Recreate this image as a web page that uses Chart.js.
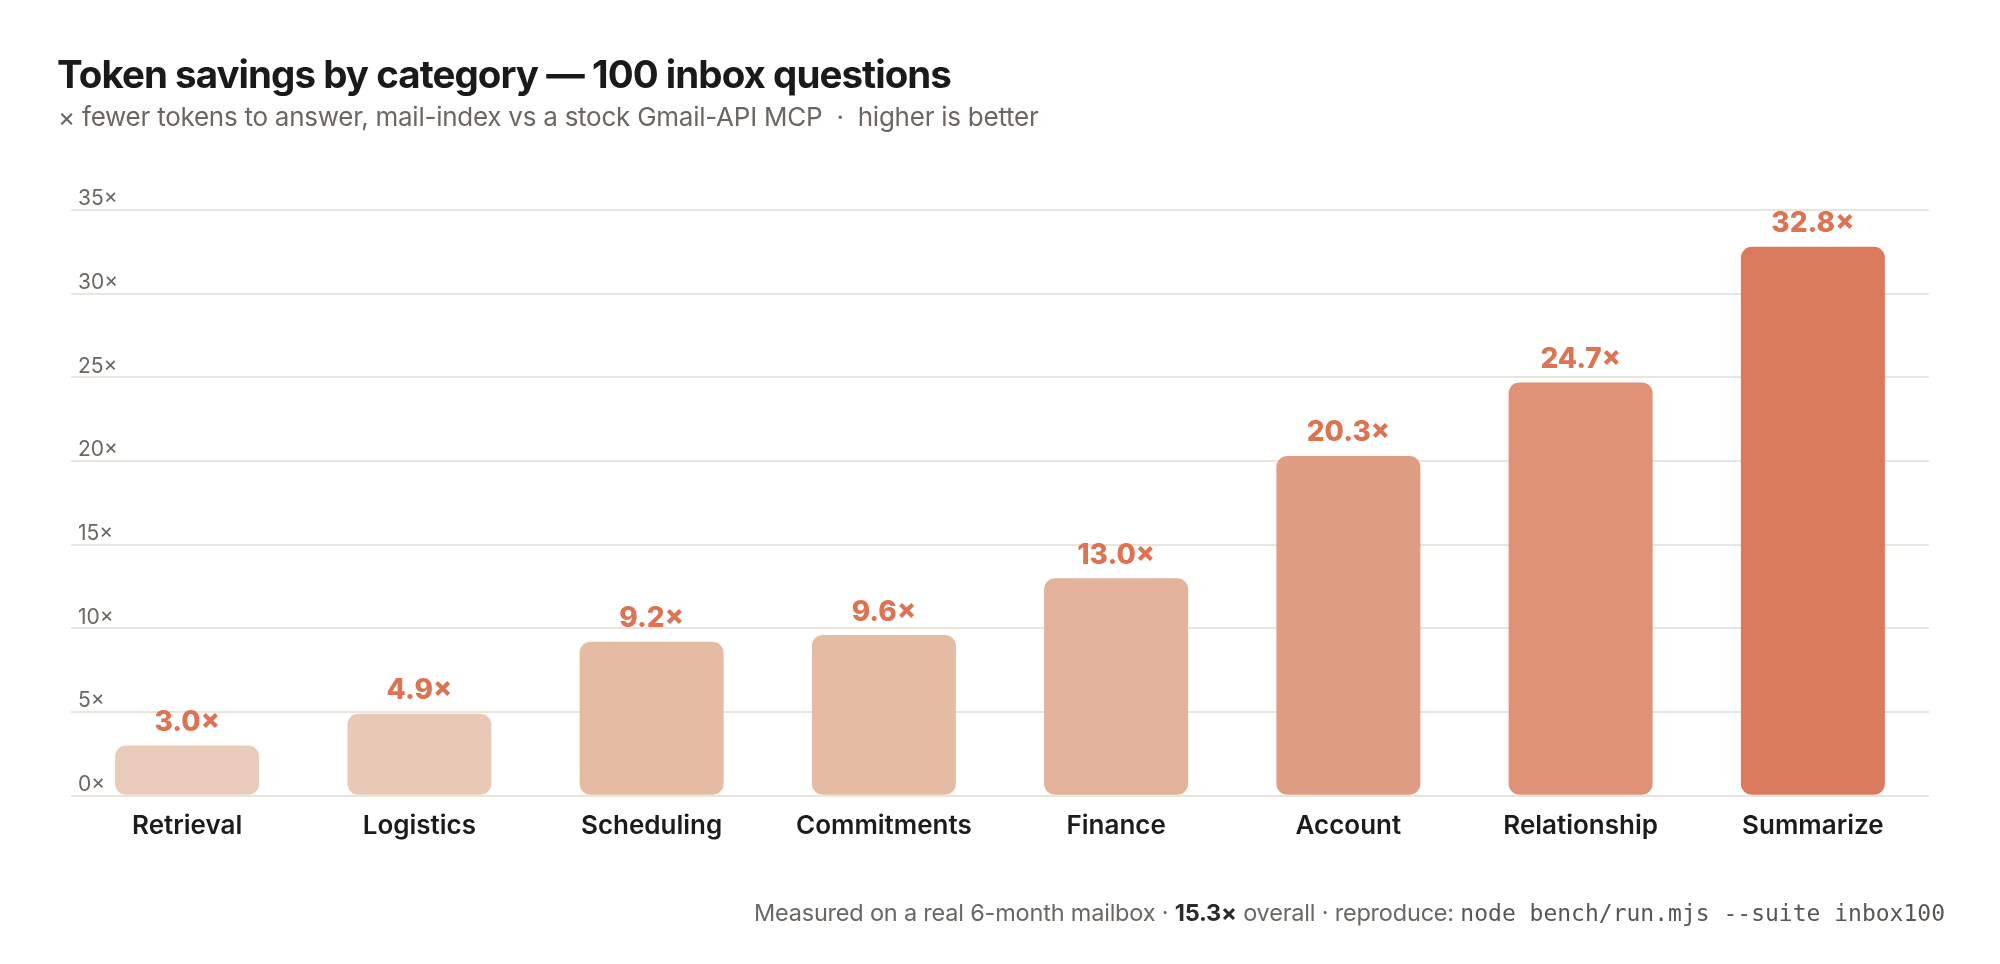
<!DOCTYPE html>
<html>
<head>
<meta charset="utf-8">
<script src="https://cdn.jsdelivr.net/npm/chart.js@4.4.1/dist/chart.umd.min.js"></script>
<style>
  html, body { margin: 0; padding: 0; background: #fff; }
  body { width: 2000px; height: 964px; position: relative; overflow: hidden; font-family: Inter, "Noto Sans", sans-serif; }
  #wrap { position: absolute; left: 0; top: 0; width: 2000px; height: 964px; }
  .title { position: absolute; left: 57px; top: 55px; font-size: 38.5px; font-weight: 700; color: #1a1a1a; letter-spacing: -0.95px; line-height: 1; white-space: nowrap; }
  .sub { position: absolute; left: 58px; top: 104px; font-size: 26px; font-weight: 400; color: #6b6661; letter-spacing: -0.25px; line-height: 1; white-space: nowrap; }
  .foot { position: absolute; right: 55px; top: 901px; font-size: 23.5px; color: #6b6661; line-height: 1; white-space: nowrap; letter-spacing: -0.2px; }
  .foot b { color: #2a2a2a; font-weight: 700; }
  .foot code { font-family: "DejaVu Sans Mono", "Liberation Mono", monospace; font-size: 23px; color: #5a5550; letter-spacing: 0; }
</style>
</head>
<body>
<div id="wrap"><canvas id="chart"></canvas></div>
<div class="title">Token savings by category — 100 inbox questions</div>
<div class="sub">× fewer tokens to answer, mail-index vs a stock Gmail-API MCP &nbsp;·&nbsp; higher is better</div>
<div class="foot">Measured on a real 6-month mailbox · <b>15.3×</b> overall · reproduce: <code>node bench/run.mjs --suite inbox100</code></div>
<script>
const categories = ['Retrieval', 'Logistics', 'Scheduling', 'Commitments', 'Finance', 'Account', 'Relationship', 'Summarize'];
const savings = [3.0, 4.9, 9.2, 9.6, 13.0, 20.3, 24.7, 32.8];
const yTicks = [0, 5, 10, 15, 20, 25, 30, 35];

const barColors = ['#e8cbb8', '#e8c9b5', '#e4bca4', '#e4bba3', '#e2b29b', '#df9e83', '#df9275', '#da7b5e'];

// value labels above each bar
const valueLabels = {
  id: 'valueLabels',
  afterDatasetsDraw(chart) {
    const ctx = chart.ctx;
    const meta = chart.getDatasetMeta(0);
    ctx.save();
    ctx.font = '800 28px Inter, "Noto Sans", sans-serif';
    ctx.fillStyle = '#dc7352';
    ctx.textAlign = 'center';
    ctx.textBaseline = 'bottom';
    meta.data.forEach((bar, i) => {
      ctx.fillText(savings[i].toFixed(1) + '×', bar.x, bar.y - 9);
    });
    ctx.restore();
  }
};

const ctx = document.getElementById('chart').getContext('2d');
new Chart(ctx, {
  type: 'bar',
  data: {
    labels: categories,
    datasets: [{
      data: savings,
      backgroundColor: barColors,
      borderRadius: 11,
      borderSkipped: false,
      categoryPercentage: 1,
      barPercentage: 0.62
    }]
  },
  options: {
    responsive: true,
    maintainAspectRatio: false,
    animation: false,
    layout: { padding: { left: 57, right: 71, top: 210, bottom: 115 } },
    plugins: {
      legend: { display: false },
      tooltip: { enabled: false }
    },
    scales: {
      x: {
        grid: { display: false },
        border: { display: false },
        ticks: {
          color: '#1c1c1c',
          padding: 7,
          font: { family: 'Inter', size: 26, weight: '600' }
        }
      },
      y: {
        min: 0,
        max: 35,
        afterBuildTicks(axis) { axis.ticks = yTicks.map(v => ({ value: v })); },
        border: { display: false },
        grid: { color: '#e9e5dd', lineWidth: 2, drawTicks: false },
        ticks: {
          mirror: true,
          padding: 7,
          labelOffset: -11,
          color: '#6b6661',
          font: { family: 'Inter', size: 21 },
          callback: v => v + '×'
        }
      }
    }
  },
  plugins: [valueLabels]
});
</script>
</body>
</html>
